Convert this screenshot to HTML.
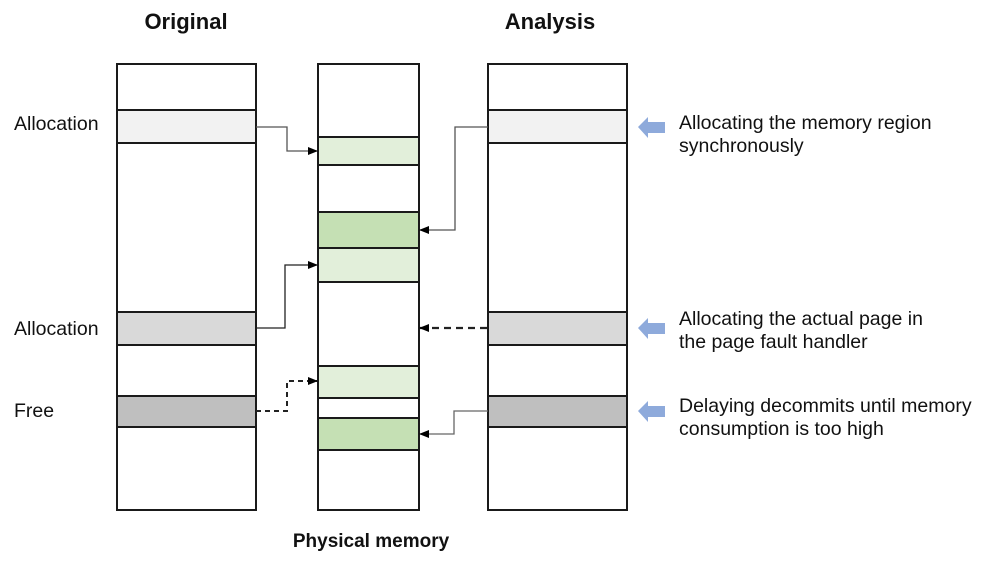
<!DOCTYPE html>
<html><head><meta charset="utf-8"><style>
html,body{margin:0;padding:0;background:#fff;}
svg{display:block;font-family:"Liberation Sans",sans-serif;}
</style></head><body>
<svg width="996" height="563" viewBox="0 0 996 563" xmlns="http://www.w3.org/2000/svg">
<defs>
<marker id="ah" markerWidth="10" markerHeight="8" refX="9" refY="4" orient="auto" markerUnits="userSpaceOnUse">
<path d="M0,0 L10,4 L0,8 z" fill="#000"/></marker>
</defs>
<g stroke="#1a1a1a" stroke-width="2">
<rect x="117" y="64" width="139" height="446" fill="#fff"/>
<rect x="117" y="110" width="139" height="33" fill="#f2f2f2"/>
<rect x="117" y="312" width="139" height="33" fill="#d9d9d9"/>
<rect x="117" y="396" width="139" height="31" fill="#bfbfbf"/>
<rect x="318" y="64" width="101" height="446" fill="#fff"/>
<rect x="318" y="137" width="101" height="28" fill="#e2efda"/>
<rect x="318" y="212" width="101" height="36" fill="#c5e0b4"/>
<rect x="318" y="248" width="101" height="34" fill="#e2efda"/>
<rect x="318" y="366" width="101" height="32" fill="#e2efda"/>
<rect x="318" y="418" width="101" height="32" fill="#c5e0b4"/>
<rect x="488" y="64" width="139" height="446" fill="#fff"/>
<rect x="488" y="110" width="139" height="33" fill="#f2f2f2"/>
<rect x="488" y="312" width="139" height="33" fill="#d9d9d9"/>
<rect x="488" y="396" width="139" height="31" fill="#bfbfbf"/>
</g>
<g fill="none" stroke-width="1.3">
<polyline points="256,127 287,127 287,151 317,151" stroke="#555" marker-end="url(#ah)"/>
<polyline points="256,328 285,328 285,265 317,265" stroke="#222" marker-end="url(#ah)"/>
<polyline points="256,411 287,411 287,381 317,381" stroke="#222" stroke-width="2" stroke-dasharray="5,4" marker-end="url(#ah)"/>
<polyline points="488,127 455,127 455,230 420,230" stroke="#555" marker-end="url(#ah)"/>
<polyline points="487,328 420,328" stroke="#222" stroke-width="2.2" stroke-dasharray="7,5" marker-end="url(#ah)"/>
<polyline points="488,411 454,411 454,434 420,434" stroke="#666" marker-end="url(#ah)"/>
</g>
<g fill="#8eaadb">
<path d="M638,127 L648,117 L648,122 L665,122 L665,133 L648,133 L648,138 z"/>
<path d="M638,328 L648,318 L648,323 L665,323 L665,334 L648,334 L648,339 z"/>
<path d="M638,411 L648,401 L648,406 L665,406 L665,417 L648,417 L648,422 z"/>
</g>
<g font-size="19.5" fill="#111">
<text x="186" y="29" font-weight="bold" font-size="22" text-anchor="middle">Original</text>
<text x="550" y="29" font-weight="bold" font-size="22" text-anchor="middle">Analysis</text>
<text x="14" y="130">Allocation</text>
<text x="14" y="335">Allocation</text>
<text x="14" y="417">Free</text>
<text x="679" y="129">Allocating the memory region</text>
<text x="679" y="152">synchronously</text>
<text x="679" y="325">Allocating the actual page in</text>
<text x="679" y="348">the page fault handler</text>
<text x="679" y="412">Delaying decommits until memory</text>
<text x="679" y="435">consumption is too high</text>
<text x="371" y="547" font-weight="bold" font-size="19" text-anchor="middle">Physical memory</text>
</g>
</svg>
</body></html>
